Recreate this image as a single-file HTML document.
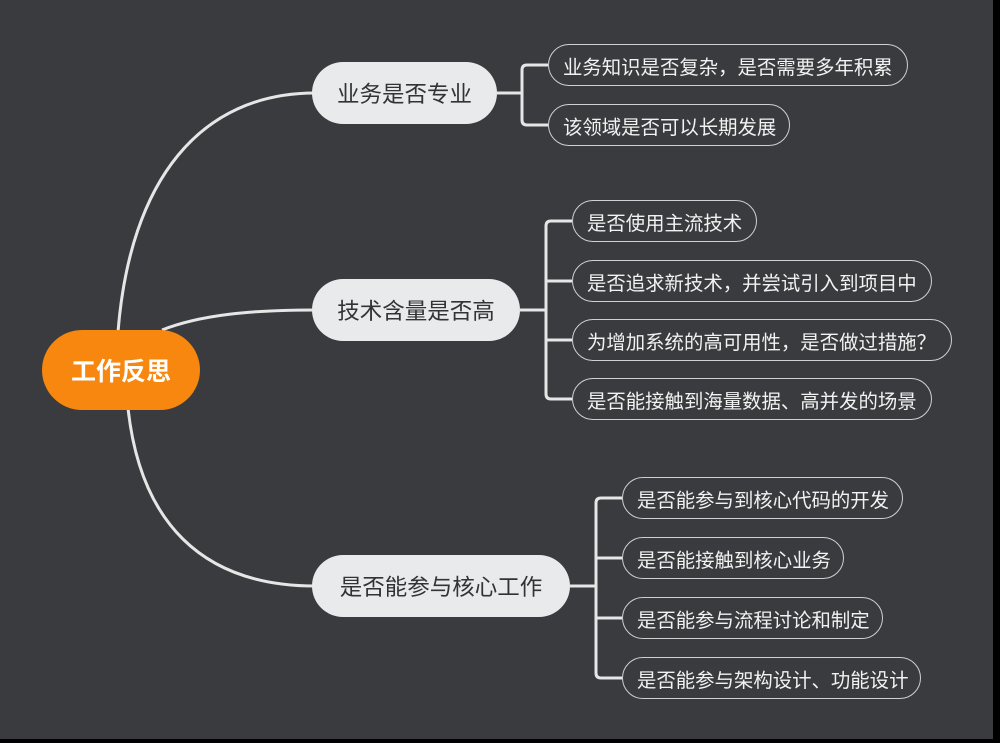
<!DOCTYPE html>
<html><head><meta charset="utf-8"><style>
html,body{margin:0;padding:0;}
body{width:1000px;height:743px;background:#000;position:relative;overflow:hidden;font-family:"Liberation Sans","Noto Sans CJK SC",sans-serif;}
#bg{position:absolute;left:0;top:0;width:993px;height:739px;background:#3a3b3e;}
.n{position:absolute;box-sizing:border-box;display:flex;align-items:center;white-space:nowrap;}
.root{background:#f7870f;color:#fff;font-weight:bold;font-size:25px;border-radius:40px;justify-content:center;}
.br{background:#e9eaec;color:#333;font-size:22.5px;border-radius:31px;justify-content:center;}
.lf{border:1.6px solid #cfd0d2;color:#f2f2f2;font-size:19.4px;border-radius:21px;padding-left:14px;height:42px;}
</style></head><body>
<div id="bg"></div>
<svg width="1000" height="743" style="position:absolute;left:0;top:0">
<g fill="none" stroke="#e6e6e6" stroke-width="3">
<path d="M118 332 C 130 180, 200 93, 315 93"/>
<path d="M162 330 C 200 315, 250 310, 315 310"/>
<path d="M128 408 C 140 520, 200 586, 315 586"/>
<path d="M497 93 H522 M548 65 H527 Q522 65 522 70 V120 Q522 125 527 125 H548"/>
<path d="M520 310 H546 M572 221 H551 Q546 221 546 226 V394 Q546 399 551 399 H572 M546 281 H572 M546 340 H572"/>
<path d="M570 586 H596 M622 498 H601 Q596 498 596 503 V673 Q596 678 601 678 H622 M596 558 H622 M596 618 H622"/>
</g></svg>
<div class="n root" style="left:42px;top:330px;width:158px;height:80px">工作反思</div>
<div class="n br" style="left:312px;top:62px;width:185px;height:62px">业务是否专业</div>
<div class="n br" style="left:312px;top:279px;width:208px;height:62px">技术含量是否高</div>
<div class="n br" style="left:312px;top:555px;width:258px;height:62px">是否能参与核心工作</div>
<div class="n lf" style="left:548px;top:44px;width:360px">业务知识是否复杂，是否需要多年积累</div>
<div class="n lf" style="left:548px;top:104px;width:242px">该领域是否可以长期发展</div>
<div class="n lf" style="left:572px;top:200px;width:185px">是否使用主流技术</div>
<div class="n lf" style="left:572px;top:260px;width:360px">是否追求新技术，并尝试引入到项目中</div>
<div class="n lf" style="left:572px;top:319px;width:380px">为增加系统的高可用性，是否做过措施？</div>
<div class="n lf" style="left:572px;top:378px;width:360px">是否能接触到海量数据、高并发的场景</div>
<div class="n lf" style="left:622px;top:477px;width:281px">是否能参与到核心代码的开发</div>
<div class="n lf" style="left:622px;top:537px;width:222px">是否能接触到核心业务</div>
<div class="n lf" style="left:622px;top:597px;width:261px">是否能参与流程讨论和制定</div>
<div class="n lf" style="left:622px;top:657px;width:299px">是否能参与架构设计、功能设计</div>
</body></html>
